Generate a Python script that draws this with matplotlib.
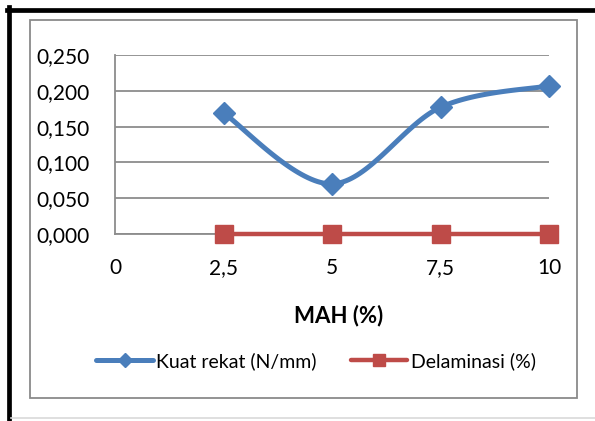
import matplotlib.pyplot as plt
import numpy as np
from matplotlib.lines import Line2D
from matplotlib.patches import Rectangle

plt.rcParams['font.family'] = ['Lato', 'DejaVu Sans']

mah = [2.5, 5, 7.5, 10]
kuat_rekat = [0.169, 0.070, 0.177, 0.207]
delaminasi = [0, 0, 0, 0]
x_ticks = [0, 2.5, 5, 7.5, 10]
x_labels = ['0', '2,5', '5', '7,5', '10']
y_ticks = [0, 0.05, 0.10, 0.15, 0.20, 0.25]
y_labels = ['0,000', '0,050', '0,100', '0,150', '0,200', '0,250']

blue = '#4A7EBB'
red = '#BE4B48'
grid_col = '#8C8C8C'


def smooth(xs, ys, n=40):
    # excel-like smoothed line (catmull-rom through the points)
    p = np.column_stack([xs, ys]).astype(float)
    p = np.vstack([p[0], p, p[-1]])
    out = []
    for i in range(1, len(p) - 2):
        p0, p1, p2, p3 = p[i - 1], p[i], p[i + 1], p[i + 2]
        t = np.linspace(0, 1, n)[:, None]
        c1 = p1 + (p2 - p0) / 6
        c2 = p2 - (p3 - p1) / 6
        seg = ((1 - t) ** 3) * p1 + 3 * ((1 - t) ** 2) * t * c1 + 3 * (1 - t) * t ** 2 * c2 + t ** 3 * p2
        out.append(seg)
    out = np.vstack(out)
    return out[:, 0], out[:, 1]


W, H = 595, 421
fig = plt.figure(figsize=(W / 100, H / 100), dpi=100)

# outer frames
fig.add_artist(Line2D([8.5 / W, 8.5 / W], [0, 1 - 7 / H], color='black', lw=3.4))
fig.add_artist(Line2D([6.5 / W, 1], [1 - 9.5 / H, 1 - 9.5 / H], color='black', lw=3.4))
fig.add_artist(Rectangle((30 / W, 1 - 398 / H), (577 - 30) / W, (398 - 20) / H,
                         fill=False, ec='#8A8A8A', lw=1.3))
fig.add_artist(Line2D([11 / W, 1], [1 - 418 / H, 1 - 418 / H], color='#D9D9D9', lw=1.2))

ax = fig.add_axes([115 / W, 1 - 234 / H, (549 - 115) / W, (234 - 55) / H])

sx, sy = smooth(mah, kuat_rekat)
ax.plot(sx, sy, color=blue, lw=3.6, solid_capstyle='round', zorder=3, clip_on=False)
ax.plot(mah, kuat_rekat, ls='none', marker='D', ms=11, color=blue, zorder=4, clip_on=False)
ax.plot(mah, delaminasi, color=red, lw=3.2, marker='s', ms=13, zorder=4, clip_on=False)

ax.set_xlim(0, 10)
ax.set_ylim(0, 0.25)
ax.set_xticks(x_ticks)
ax.set_xticklabels(x_labels)
ax.set_yticks(y_ticks)
ax.set_yticklabels(y_labels)
ax.tick_params(length=0, labelsize=15, colors='black')
ax.tick_params(axis='y', pad=18)
ax.tick_params(axis='x', pad=17)
ax.yaxis.grid(True, color=grid_col, lw=1.3)
ax.set_axisbelow(True)
for s in ['top', 'right']:
    ax.spines[s].set_visible(False)
for s in ['left', 'bottom']:
    ax.spines[s].set_color(grid_col)
    ax.spines[s].set_linewidth(1.3)

fig.text(339 / W, 1 - 316 / H, 'MAH (%)', ha='center', va='center', fontsize=16, fontweight='bold')

handles = [
    Line2D([], [], color=blue, lw=3.6, marker='D', ms=7, solid_capstyle='round'),
    Line2D([], [], color=red, lw=3.2, marker='s', ms=9, solid_capstyle='round'),
]
fig.legend(handles, ['Kuat rekat (N/mm)', 'Delaminasi (%)'], loc='center',
           bbox_to_anchor=(316 / W, 1 - 361 / H), ncol=2, frameon=False,
           fontsize=14, handlelength=2.9, handletextpad=0.18, columnspacing=1.75,
           borderpad=0, borderaxespad=0)

fig.savefig('out.png', dpi=100)
